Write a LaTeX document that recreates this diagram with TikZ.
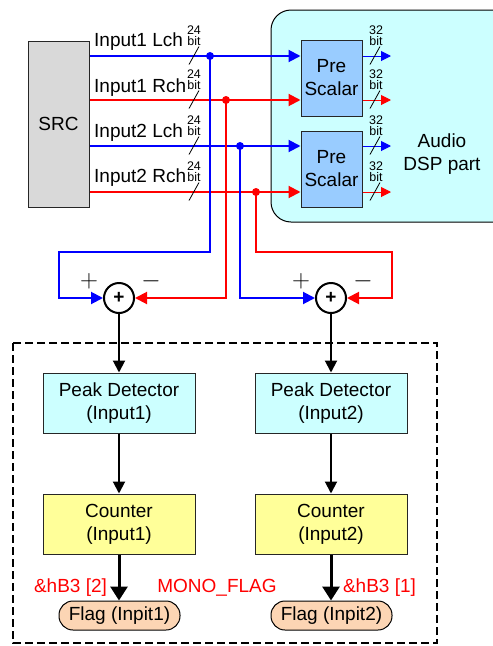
\documentclass[tikz,border=0pt]{standalone}
\usepackage{fontspec}
\setmainfont{Liberation Sans}
\usetikzlibrary{arrows.meta}

\definecolor{dspfill}{RGB}{204,255,255}
\definecolor{prefill}{RGB}{153,204,255}
\definecolor{cntfill}{RGB}{255,255,153}
\definecolor{flagfill}{RGB}{252,213,180}
\definecolor{srcfill}{RGB}{217,217,217}
\definecolor{blu}{RGB}{0,0,255}
\definecolor{rosso}{RGB}{255,0,0}

\tikzset{
  testo/.style={font=\fontsize{19}{23}\selectfont},
  segno/.style={font=\fontsize{24.88}{25}\selectfont, inner sep=0pt},
  bits/.style={font=\fontsize{12.5}{10}\selectfont, anchor=base, inner sep=0pt},
  blocco/.style={draw=black!85, line width=1pt, align=center, testo, inner sep=0pt},
  filo/.style={line width=2pt},
  uscita/.style={line width=1pt, -{Triangle[length=10pt,width=10pt]}},
  sommatore/.style={circle, draw, line width=2pt, minimum size=30pt, inner sep=0pt, testo, font=\fontsize{19}{23}\selectfont\bfseries},
  freccia/.style={line width=2pt, -{Triangle[length=12pt,width=12pt]}},
  frecciaflag/.style={line width=3pt, -{Triangle[length=14pt,width=17pt]}},
  flag/.style={draw, fill=flagfill, line width=1pt, rounded corners=14pt, minimum width=121pt, minimum height=29pt, inner sep=0pt, testo}
}

\begin{document}
\begin{tikzpicture}[x=1pt,y=-1pt,>={Triangle[length=12pt,width=12pt]}]
    \useasboundingbox (0,0) rectangle (493,646);
    \clip (0,0) rectangle (493,646);

    % parte DSP
    \draw[fill=dspfill,line width=1pt,rounded corners=20pt] (271,10) rectangle (545,222);
    \node[testo,align=center] (dsp) at (442,154.5) {Audio\\DSP part};

    % blocchi SRC e Pre Scalar
    \node[blocco,fill=srcfill,minimum width=61pt,minimum height=166pt] (src) at (58.5,124) {SRC};
    \node[blocco,fill=prefill,minimum width=61pt,minimum height=76pt] (pre1) at (331.5,78) {Pre\\Scalar};
    \node[blocco,fill=prefill,minimum width=61pt,minimum height=76pt] (pre2) at (331.5,169) {Pre\\Scalar};

    % punti sulle linee di ingresso
    \coordinate (in1) at (src.east |- 0,56);
    \coordinate (in2) at (src.east |- 0,100);
    \coordinate (in3) at (src.east |- 0,146);
    \coordinate (in4) at (src.east |- 0,192);
    \coordinate (j1) at (210,56);
    \coordinate (j2) at (226,100);
    \coordinate (j3) at (240,146);
    \coordinate (j4) at (256,192);

    % linee di ingresso
    \draw[filo,blu,->] (in1) -- (in1 -| pre1.west);
    \draw[filo,rosso,->] (in2) -- (in2 -| pre1.west);
    \draw[filo,blu,->] (in3) -- (in3 -| pre2.west);
    \draw[filo,rosso,->] (in4) -- (in4 -| pre2.west);

    \node[testo,anchor=base west,inner sep=0pt] (lab1) at (94,46) {Input1 Lch};
    \node[testo,anchor=base west,inner sep=0pt] (lab2) at (94,92) {Input1 Rch};
    \node[testo,anchor=base west,inner sep=0pt] (lab3) at (94,137) {Input2 Lch};
    \node[testo,anchor=base west,inner sep=0pt] (lab4) at (94,182) {Input2 Rch};

    % 24 bit
    \node[bits] (n1) at (194,34) {24};
    \node[bits] (b1) at (194,45) {bit};
    \node[bits] (n2) at (194,78) {24};
    \node[bits] (b2) at (194,89) {bit};
    \node[bits] (n3) at (194,124) {24};
    \node[bits] (b3) at (194,135) {bit};
    \node[bits] (n4) at (194,170) {24};
    \node[bits] (b4) at (194,181) {bit};
    \draw[line width=0.8pt] (189,64.5) -- (199,46.5);
    \draw[line width=0.8pt] (189,108.5) -- (199,90.5);
    \draw[line width=0.8pt] (189,154.5) -- (199,136.5);
    \draw[line width=0.8pt] (189,200.5) -- (199,182.5);

    % uscite 32 bit
    \coordinate (o1) at (391,56);
    \coordinate (o2) at (391,100);
    \coordinate (o3) at (391,146);
    \coordinate (o4) at (391,192);
    \draw[uscita,blu] (o1 -| pre1.east) -- (o1);
    \draw[uscita,rosso] (o2 -| pre1.east) -- (o2);
    \draw[uscita,blu] (o3 -| pre2.east) -- (o3);
    \draw[uscita,rosso] (o4 -| pre2.east) -- (o4);
    \node[bits] (m1) at (376,34) {32};
    \node[bits] (d1) at (376,45) {bit};
    \node[bits] (m2) at (376,78) {32};
    \node[bits] (d2) at (376,89) {bit};
    \node[bits] (m3) at (376,124) {32};
    \node[bits] (d3) at (376,135) {bit};
    \node[bits] (m4) at (376,170) {32};
    \node[bits] (d4) at (376,181) {bit};
    \draw[line width=0.8pt] (370,64.5) -- (380,46.5);
    \draw[line width=0.8pt] (370,108.5) -- (380,90.5);
    \draw[line width=0.8pt] (370,154.5) -- (380,136.5);
    \draw[line width=0.8pt] (370,200.5) -- (380,182.5);

    % sommatori
    \node[sommatore] (sum1) at (119,298) {+};
    \node[sommatore] (sum2) at (331,298) {+};
    \node[segno] (piu1) at (89,281) {$+$};
    \node[segno] (meno1) at (151,281.5) {$-$};
    \node[segno] (piu2) at (301,281) {$+$};
    \node[segno] (meno2) at (363,281.5) {$-$};

    % anelli di ritorno
    \coordinate (k1) at (59,252);
    \coordinate (k2) at (392,252);
    \draw[filo,blu,->] (j1) |- (k1) |- (sum1);
    \draw[filo,rosso,->] (j2) |- (sum1);
    \draw[filo,blu,->] (j3) |- (sum2);
    \draw[filo,rosso,->] (j4) |- (k2) |- (sum2);
    \fill[blu] (j1) circle (4pt);
    \fill[rosso] (j2) circle (4pt);
    \fill[blu] (j3) circle (4pt);
    \fill[rosso] (j4) circle (4pt);

    % rilevatore
    \draw[line width=2pt,dash pattern=on 8pt off 4pt] (13,343) rectangle (437,643);
    \node[blocco,fill=dspfill,minimum width=152pt,minimum height=60pt] (peak1) at (119,403) {Peak Detector\\(Input1)};
    \node[blocco,fill=dspfill,minimum width=152pt,minimum height=60pt] (peak2) at (331,403) {Peak Detector\\(Input2)};
    \node[blocco,fill=cntfill,minimum width=152pt,minimum height=60pt] (cnt1) at (119,524) {Counter\\(Input1)};
    \node[blocco,fill=cntfill,minimum width=152pt,minimum height=60pt] (cnt2) at (331,524) {Counter\\(Input2)};
    \node[flag] (flag1) at (119.5,615.5) {Flag (Inpit1)};
    \node[flag] (flag2) at (331.5,615.5) {Flag (Inpit2)};

    \draw[freccia] (sum1) -- (peak1);
    \draw[freccia] (sum2) -- (peak2);
    \draw[freccia] (peak1) -- (cnt1);
    \draw[freccia] (peak2) -- (cnt2);
    \draw[frecciaflag] (cnt1) -- (flag1.north -| cnt1);
    \draw[frecciaflag] (cnt2) -- (flag2.north -| cnt2);

    % etichette rosse
    \node[testo,text=rosso,anchor=base] (hb2) at (70.5,592) {\&hB3 [2]};
    \node[testo,text=rosso,anchor=base] (mono) at (217,592) {MONO\_FLAG};
    \node[testo,text=rosso,anchor=base] (hb1) at (379.5,592) {\&hB3 [1]};
\end{tikzpicture}
\end{document}
